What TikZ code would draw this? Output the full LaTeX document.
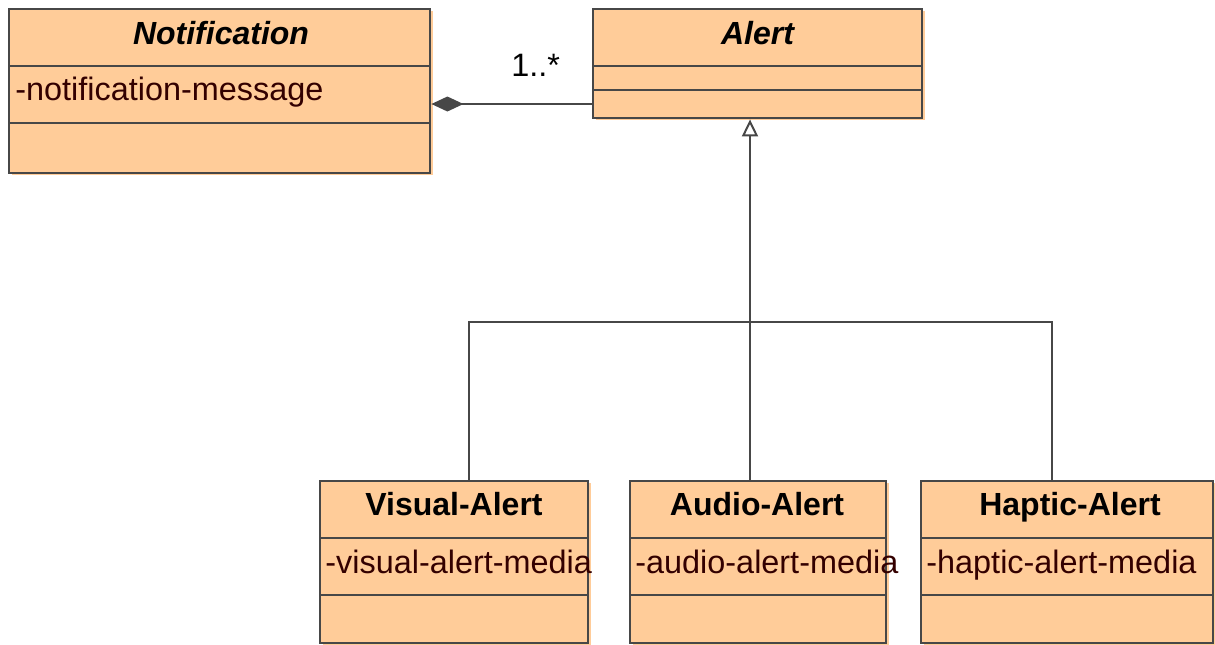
\documentclass[tikz,border=0pt]{standalone}
\usepackage{fontspec}
\setmainfont{Liberation Sans}
\usetikzlibrary{arrows.meta,fit}
\definecolor{peach}{HTML}{FFCC99}
\definecolor{edgegray}{HTML}{474747}
\definecolor{attrcol}{HTML}{330000}
\tikzset{
  classbox/.style={draw=edgegray, line width=1.4pt, fill=peach, inner sep=0pt},
  divider/.style={draw=edgegray, line width=1.4pt},
  conn/.style={draw=edgegray, line width=1pt},
  titletext/.style={font=\fontsize{16}{19}\selectfont\bfseries, anchor=base, inner sep=0pt},
  abstitle/.style={font=\fontsize{16}{19}\selectfont\bfseries\itshape, anchor=base, inner sep=0pt},
  attrtext/.style={font=\fontsize{16.2}{19}\selectfont, text=attrcol, anchor=base west, inner sep=0pt},
  multtext/.style={font=\fontsize{16.2}{19}\selectfont, anchor=base west, inner sep=0pt},
}
\newcommand{\umlclassbox}[7]{%
  \fill[peach] (#2+3,#3+2) rectangle (#4+3,#5+2);
  \coordinate (#1-nw) at (#2,#3);
  \coordinate (#1-se) at (#4,#5);
  \node[classbox, fit=(#1-nw)(#1-se)] (#1) {};
  \draw[divider] (#2,#6) -- (#4,#6);
  \draw[divider] (#2,#7) -- (#4,#7);
}
\begin{document}
\begin{tikzpicture}[x=0.5pt,y=-0.5pt]
\useasboundingbox (0,0) rectangle (1215,644);
% classes
\umlclassbox{notif}{9}{9}{430}{173}{66}{123}
\umlclassbox{alert}{593}{9}{922}{118}{66}{90}
\umlclassbox{visual}{320}{481}{588}{643}{538}{595}
\umlclassbox{audio}{630}{481}{886}{643}{538}{595}
\umlclassbox{haptic}{921}{481}{1213}{643}{538}{595}
% texts
\node[abstitle] (notiftitle) at (221,44) {Notification};
\node[attrtext] (notifattr) at (15,100) {-notification-message};
\node[abstitle] (alerttitle) at (757.5,44) {Alert};
\node[titletext] (visualtitle) at (454,515) {Visual-Alert};
\node[attrtext] (visualattr) at (325,573) {-visual-alert-media};
\node[titletext] (audiotitle) at (757,515) {Audio-Alert};
\node[attrtext] (audioattr) at (635,573) {-audio-alert-media};
\node[titletext] (haptictitle) at (1070,515) {Haptic-Alert};
\node[attrtext] (hapticattr) at (926,573) {-haptic-alert-media};
% composition
\coordinate (comp) at (500,104);
\draw[conn, -{Diamond[length=16pt,width=7.5pt,fill=edgegray]}] (alert.west |- comp) -- (notif.east |- comp);
\node[multtext] (mult) at (511,76) {1..*};
% generalization
\coordinate (gj) at (750,322);
\coordinate (gv) at (469,322);
\coordinate (gh) at (1052,322);
\draw[conn, -{Triangle[open,length=8.5pt,width=8pt]}] (audio.north -| gj) -- (alert.south -| gj);
\draw[conn] (visual.north -| gv) -- (gv) -- (gh) -- (haptic.north -| gh);
\end{tikzpicture}
\end{document}
